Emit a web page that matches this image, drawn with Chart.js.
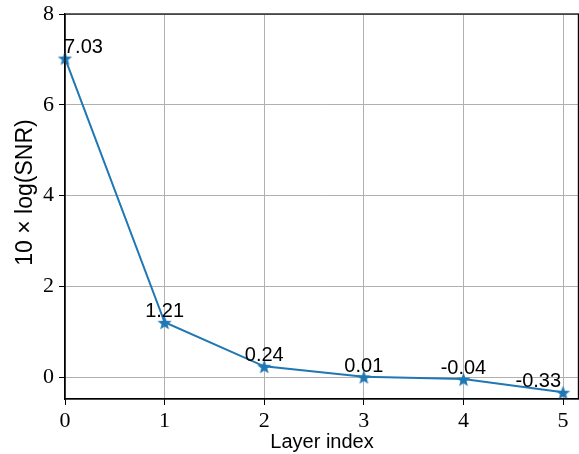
<!DOCTYPE html>
<html>
<head>
<meta charset="utf-8">
<script src="https://cdn.jsdelivr.net/npm/chart.js@4"></script>
<style>
  html, body { margin: 0; padding: 0; background: #fff; overflow: hidden; }
  #wrap { width: 579px; height: 454px; }
  canvas { display: block; }
</style>
</head>
<body>
<div id="wrap"><canvas id="chart"></canvas></div>
<script>
// --- Data ---
const layers = [0, 1, 2, 3, 4, 5];
const snrDb = [7.03, 1.21, 0.24, 0.01, -0.04, -0.33];
const snrLabels = ["7.03", "1.21", "0.24", "0.01", "-0.04", "-0.33"];
const xTicks = [0, 1, 2, 3, 4, 5];
const yTicks = [0, 2, 4, 6, 8];

const blue = "#1f77b4";
const sansFont = '"Liberation Sans", Arial, sans-serif';
const serifFont = '"Liberation Serif", "DejaVu Serif", serif';

// filled five point star used as marker
function makeStar(r) {
  const c = document.createElement("canvas");
  const s = Math.ceil(r * 2 + 2);
  c.width = s; c.height = s;
  const g = c.getContext("2d");
  g.translate(s / 2, s / 2 + 1);
  g.beginPath();
  for (let i = 0; i < 10; i++) {
    const rad = i % 2 === 0 ? r : r * 0.42;
    const a = -Math.PI / 2 + i * Math.PI / 5;
    g.lineTo(rad * Math.cos(a), rad * Math.sin(a));
  }
  g.closePath();
  g.fillStyle = blue;
  g.fill();
  return c;
}

// point value labels (first one left aligned, last one right aligned)
const valueLabels = {
  id: "valueLabels",
  afterDatasetsDraw(chart) {
    const ctx = chart.ctx;
    const meta = chart.getDatasetMeta(0);
    const last = meta.data.length - 1;
    ctx.save();
    ctx.font = "20px " + sansFont;
    ctx.fillStyle = "#000";
    ctx.textBaseline = "alphabetic";
    meta.data.forEach((pt, i) => {
      let dx = 0;
      ctx.textAlign = "center";
      if (i === 0) { ctx.textAlign = "left"; dx = -1; }
      if (i === last) { ctx.textAlign = "right"; dx = -2; }
      ctx.fillText(snrLabels[i], pt.x + dx, pt.y - 5);
    });
    ctx.restore();
  }
};

// box around the axes + y axis label
const frame = {
  id: "frame",
  afterDraw(chart) {
    const { left, right, top, bottom } = chart.chartArea;
    const ctx = chart.ctx;
    ctx.save();
    ctx.strokeStyle = "#000";
    ctx.lineWidth = 1.2;
    ctx.strokeRect(left, top, right - left - 0.6, bottom - top);

    ctx.translate(26, (top + bottom) / 2 - 14);
    ctx.rotate(-Math.PI / 2);
    ctx.font = "23px " + sansFont;
    ctx.fillStyle = "#000";
    ctx.textAlign = "center";
    ctx.textBaseline = "middle";
    ctx.fillText("10 \u00d7 log(SNR)", 0, 0);
    ctx.restore();
  }
};

new Chart(document.getElementById("chart"), {
  type: "line",
  data: {
    datasets: [{
      data: layers.map((x, i) => ({ x, y: snrDb[i] })),
      borderColor: blue,
      borderWidth: 2,
      pointStyle: makeStar(7.5),
      pointRadius: 7.5,
      tension: 0,
      clip: false
    }]
  },
  options: {
    responsive: true,
    maintainAspectRatio: false,
    animation: false,
    layout: { autoPadding: false, padding: { top: 14, right: 0, left: 0, bottom: 0 } },
    plugins: {
      legend: { display: false },
      tooltip: { enabled: false }
    },
    scales: {
      x: {
        type: "linear",
        min: 0,
        max: 5.16,
        afterBuildTicks: s => { s.ticks = xTicks.map(v => ({ value: v })); },
        afterFit: s => { s.height = 55; s.paddingRight = 0; },
        grid: { color: "#b0b0b0", lineWidth: 1, tickLength: 6, tickColor: "#000" },
        border: { color: "#000", width: 1.2 },
        ticks: {
          color: "#000",
          padding: 3,
          font: { family: serifFont, size: 22 }
        },
        title: {
          display: true,
          text: "Layer index",
          color: "#000",
          padding: { top: 1, bottom: 0 },
          font: { family: sansFont, size: 20 }
        }
      },
      y: {
        min: -0.48,
        max: 8,
        afterBuildTicks: s => { s.ticks = yTicks.map(v => ({ value: v })); },
        afterFit: s => { s.width = 65; s.paddingTop = 0; s.paddingBottom = 0; },
        grid: { color: "#b0b0b0", lineWidth: 1, tickLength: 6, tickColor: "#000" },
        border: { color: "#000", width: 1.2 },
        ticks: {
          color: "#000",
          padding: 5,
          font: { family: serifFont, size: 22 }
        }
      }
    }
  },
  plugins: [valueLabels, frame]
});
</script>
</body>
</html>
